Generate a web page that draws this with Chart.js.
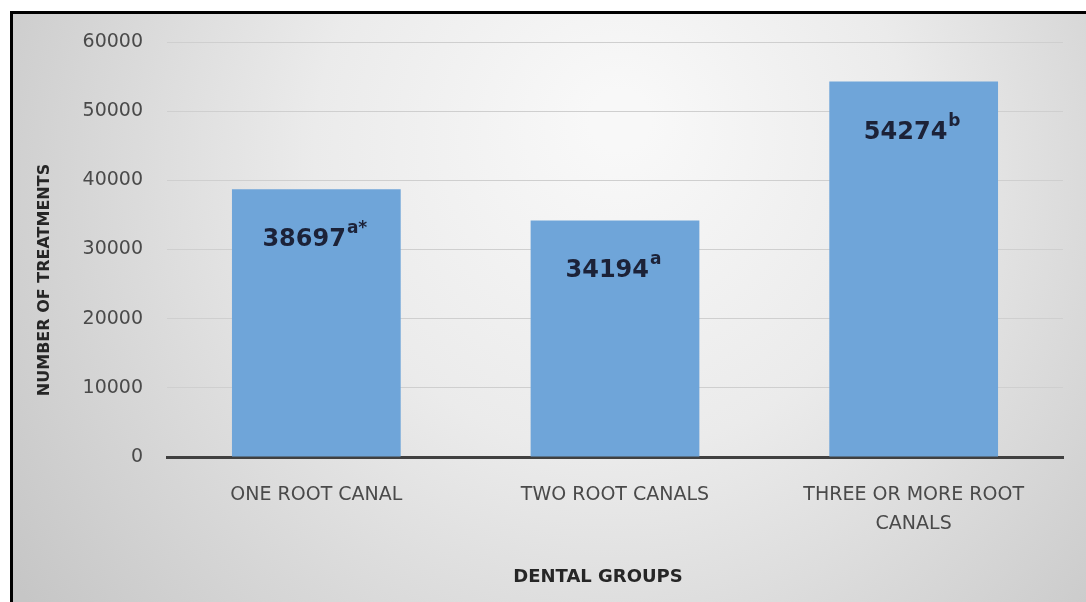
<!DOCTYPE html>
<html>
<head>
<meta charset="utf-8">
<script src="https://cdn.jsdelivr.net/npm/chart.js@4"></script>
<style>
    body { margin: 0; background: #fff; }
    .cadre { width: 1086px; height: 602px; }
</style>
</head>
<body>
<div class="cadre"><canvas id="rootChart" width="1086" height="602"></canvas></div>
<script>
// donnees du graphique
const groupes = ['ONE ROOT CANAL', 'TWO ROOT CANALS', ['THREE OR MORE ROOT', 'CANALS']];
const traitements = [38697, 34194, 54274];
const exposants = ['a*', 'a', 'b'];
const yTicks = [0, 10000, 20000, 30000, 40000, 50000, 60000];
const titreX = 'DENTAL GROUPS';
const titreY = 'NUMBER OF TREATMENTS';

// fond degrade + cadre noir
const fondPlugin = {
    id: 'fond',
    beforeDraw(chart) {
        const ctx = chart.ctx;
        ctx.save();
        ctx.fillStyle = '#fff';
        ctx.fillRect(0, 0, chart.width, chart.height);
        const g = ctx.createRadialGradient(620, 120, 30, 600, 200, 700);
        g.addColorStop(0, '#f8f8f8');
        g.addColorStop(0.4, '#ebebeb');
        g.addColorStop(1, '#c6c6c6');
        ctx.fillStyle = g;
        ctx.fillRect(10, 11, chart.width - 10, chart.height - 11);
        ctx.strokeStyle = '#000';
        ctx.lineWidth = 3;
        ctx.beginPath();
        ctx.moveTo(11.5, chart.height);
        ctx.lineTo(11.5, 12.5);
        ctx.lineTo(chart.width, 12.5);
        ctx.stroke();
        ctx.restore();
    }
};

// valeurs + exposants dans les barres, titres des axes
const etiquettesPlugin = {
    id: 'etiquettes',
    afterDatasetsDraw(chart) {
        const ctx = chart.ctx;
        const meta = chart.getDatasetMeta(0);
        ctx.save();
        ctx.fillStyle = '#1c2238';
        ctx.textBaseline = 'alphabetic';
        ctx.textAlign = 'left';
        meta.data.forEach((bar, i) => {
            const txt = String(traitements[i]);
            ctx.font = 'bold 24px "DejaVu Sans"';
            const w1 = ctx.measureText(txt).width;
            ctx.font = 'bold 17px "DejaVu Sans"';
            const w2 = ctx.measureText(exposants[i]).width;
            const x0 = bar.x - (w1 + w2) / 2 - 2;
            const base = bar.y + 57;
            ctx.font = 'bold 24px "DejaVu Sans"';
            ctx.fillText(txt, x0, base);
            ctx.font = 'bold 17px "DejaVu Sans"';
            ctx.fillText(exposants[i], x0 + w1 + 1, base - 13);
        });

        ctx.fillStyle = '#262626';
        ctx.textAlign = 'center';
        ctx.textBaseline = 'middle';
        ctx.font = 'bold 18px "DejaVu Sans"';
        ctx.fillText(titreX, 598, 577);
        ctx.translate(45, 280);
        ctx.rotate(-Math.PI / 2);
        ctx.font = 'bold 16px "DejaVu Sans"';
        ctx.fillText(titreY, 0, 0);
        ctx.restore();
    }
};

new Chart(document.getElementById('rootChart'), {
    type: 'bar',
    data: {
        labels: groupes,
        datasets: [{
            data: traitements,
            backgroundColor: '#6fa5d9',
            borderWidth: 0,
            barPercentage: 0.565,
            categoryPercentage: 1
        }]
    },
    options: {
        responsive: false,
        animation: false,
        layout: { padding: { top: 42, right: 23, left: 0, bottom: 0 } },
        plugins: {
            legend: { display: false },
            tooltip: { enabled: false }
        },
        scales: {
            x: {
                grid: { display: false },
                border: { display: true, color: '#404040', width: 3 },
                ticks: {
                    color: '#4a4a4a',
                    font: { family: '"DejaVu Sans"', size: 19, lineHeight: 1.55 },
                    padding: 15,
                    maxRotation: 0
                },
                afterFit(scale) { scale.height = 145; }
            },
            y: {
                min: 0,
                max: 60000,
                afterBuildTicks(scale) { scale.ticks = yTicks.map(v => ({ value: v })); },
                grid: { color: '#cfcfcf', lineWidth: 1, drawTicks: false },
                border: { display: false },
                ticks: {
                    color: '#4a4a4a',
                    font: { family: '"DejaVu Sans"', size: 19 },
                    padding: 24,
                    callback: v => String(v)
                },
                afterFit(scale) { scale.width = 167; }
            }
        }
    },
    plugins: [fondPlugin, etiquettesPlugin]
});
</script>
</body>
</html>
